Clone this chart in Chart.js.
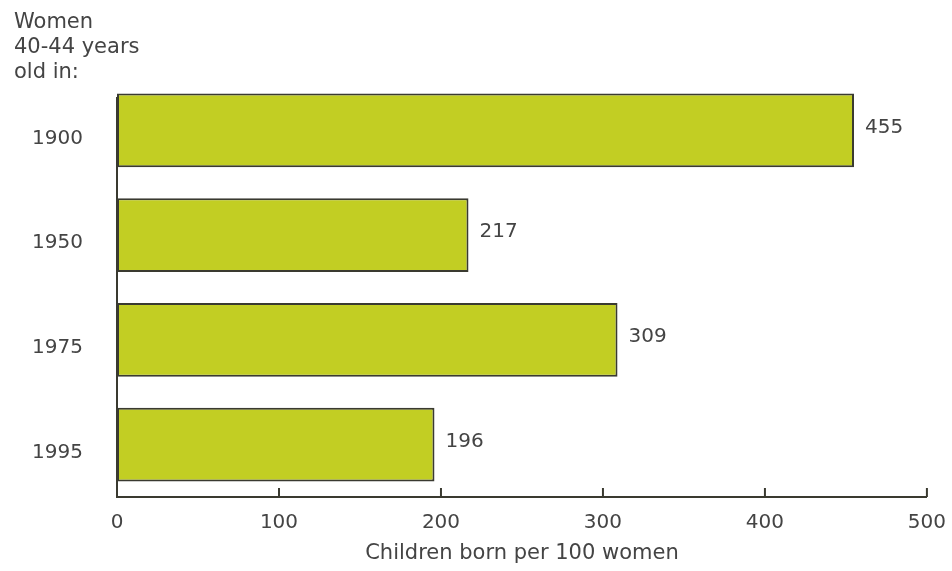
<!DOCTYPE html>
<html>
<head>
<meta charset="utf-8">
<script src="https://cdn.jsdelivr.net/npm/chart.js@4.4.1/dist/chart.umd.min.js"></script>
<style>
    html, body { margin: 0; padding: 0; background: #fff; }
    #wrap { width: 952px; height: 571px; position: relative; }
</style>
</head>
<body>
<div id="wrap"><canvas id="fertilityChart"></canvas></div>
<script>
// Data
const years = ['1900', '1950', '1975', '1995'];
const childrenPer100 = [455, 217, 309, 196];
const xTicks = [0, 100, 200, 300, 400, 500];
const titleLines = ['Women', '40-44 years', 'old in:'];
const xTitle = 'Children born per 100 women';

const textColor = '#444';
const lineColor = '#3a3a30';
const fontFamily = '"DejaVu Sans", sans-serif';

// Title, value labels and the upward tick marks
const extras = {
    id: 'extras',
    afterDraw(chart) {
        const ctx = chart.ctx;
        const area = chart.chartArea;
        const x = chart.scales.x;
        ctx.save();

        // y axis line (starts a bit below the top of the plot)
        ctx.strokeStyle = lineColor;
        ctx.lineWidth = 2;
        ctx.beginPath();
        ctx.moveTo(area.left, area.top + 19);
        ctx.lineTo(area.left, area.bottom);
        ctx.stroke();

        // tick marks pointing up from the x axis
        xTicks.forEach(v => {
            if (v === 0) return;
            const px = x.getPixelForValue(v);
            ctx.beginPath();
            ctx.moveTo(px, area.bottom);
            ctx.lineTo(px, area.bottom - 9);
            ctx.stroke();
        });

        // value labels
        ctx.fillStyle = textColor;
        ctx.font = '20px ' + fontFamily;
        ctx.textAlign = 'left';
        ctx.textBaseline = 'middle';
        chart.getDatasetMeta(0).data.forEach((bar, i) => {
            ctx.fillText(String(childrenPer100[i]), bar.x + 11, bar.y - 3);
        });

        // header text top-left
        ctx.font = '21px ' + fontFamily;
        titleLines.forEach((t, i) => {
            ctx.fillText(t, 14, 23 + i * 25);
        });
        ctx.restore();
    }
};

document.addEventListener('DOMContentLoaded', () => {
    const ctx = document.getElementById('fertilityChart').getContext('2d');
    new Chart(ctx, {
        type: 'bar',
        data: {
            labels: years,
            datasets: [{
                data: childrenPer100,
                backgroundColor: '#c2ce23',
                borderColor: lineColor,
                borderWidth: 2,
                borderSkipped: false,
                barPercentage: 0.82,
                categoryPercentage: 0.86
            }]
        },
        options: {
            indexAxis: 'y',
            responsive: true,
            maintainAspectRatio: false,
            animation: false,
            layout: { padding: { top: 78, right: 2, bottom: 5, left: 0 } },
            plugins: {
                legend: { display: false },
                tooltip: { enabled: false }
            },
            scales: {
                x: {
                    min: 0,
                    max: 500,
                    afterBuildTicks: scale => {
                        scale.ticks = xTicks.map(v => ({ value: v }));
                    },
                    afterFit: scale => { scale.height = 69; },
                    grid: { display: false },
                    border: { display: true, color: lineColor, width: 2 },
                    ticks: {
                        color: textColor,
                        padding: 6,
                        font: { size: 20, family: fontFamily }
                    },
                    title: {
                        display: true,
                        text: xTitle,
                        color: textColor,
                        padding: { top: 0, bottom: 0 },
                        font: { size: 21, family: fontFamily }
                    }
                },
                y: {
                    afterFit: scale => { scale.width = 117; },
                    grid: { display: false },
                    border: { display: false },
                    ticks: {
                        color: textColor,
                        padding: 26,
                        labelOffset: 8,
                        font: { size: 20, family: fontFamily }
                    }
                }
            }
        },
        plugins: [extras]
    });
});
</script>
</body>
</html>
